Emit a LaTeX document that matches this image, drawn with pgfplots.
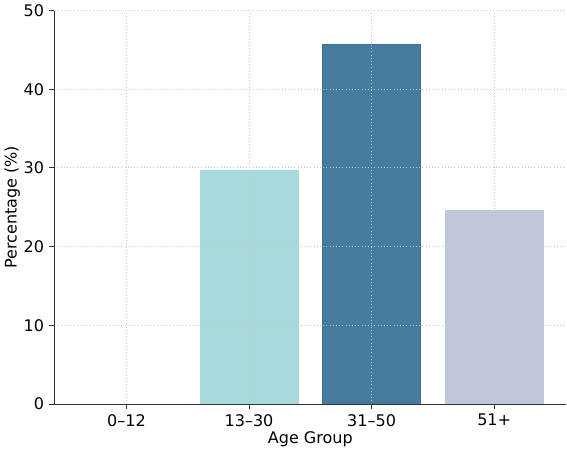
\documentclass[border=0pt]{standalone}
\usepackage{fontspec}
\setmainfont{DejaVu Sans}
\usepackage{pgfplots}
\pgfplotsset{compat=1.18}
\definecolor{c1}{HTML}{A8DADC}
\definecolor{c2}{HTML}{457B9D}
\definecolor{c3}{HTML}{BFC8DA}
\begin{document}
\begin{tikzpicture}
\begin{axis}[
  scale only axis,
  width=384pt, height=295pt,
  xmin=-0.59, xmax=3.59, ymin=0, ymax=50,
  axis lines*=left,
  axis line style={black!80, line width=0.8pt},
  xtick={0,1,2,3},
  xticklabels={0--12,13--30,31--50,51+},
  ytick={0,10,20,30,40,50},
  tick style={black!80, line width=0.8pt},
  tick align=outside,
  major tick length=4pt,
  grid=major,
  grid style={gray!45, dotted, line width=0.8pt},
  xlabel={Age Group}, ylabel={Percentage (\%)},
  tick label style={font=\fontsize{12}{14}\selectfont},
  label style={font=\fontsize{12}{14}\selectfont},
  /pgf/number format/assume math mode=true,
  xlabel style={yshift=3pt},
  ylabel style={yshift=-4pt},
  ybar, bar width=0.8, bar shift=0pt,
  axis on top=true,
]
\addplot[fill=c1, draw=c1] coordinates {(1,29.7)};
\addplot[fill=c2, draw=c2!90!black] coordinates {(2,45.7)};
\addplot[fill=c3, draw=c3] coordinates {(3,24.6)};
\end{axis}
\end{tikzpicture}
\end{document}
